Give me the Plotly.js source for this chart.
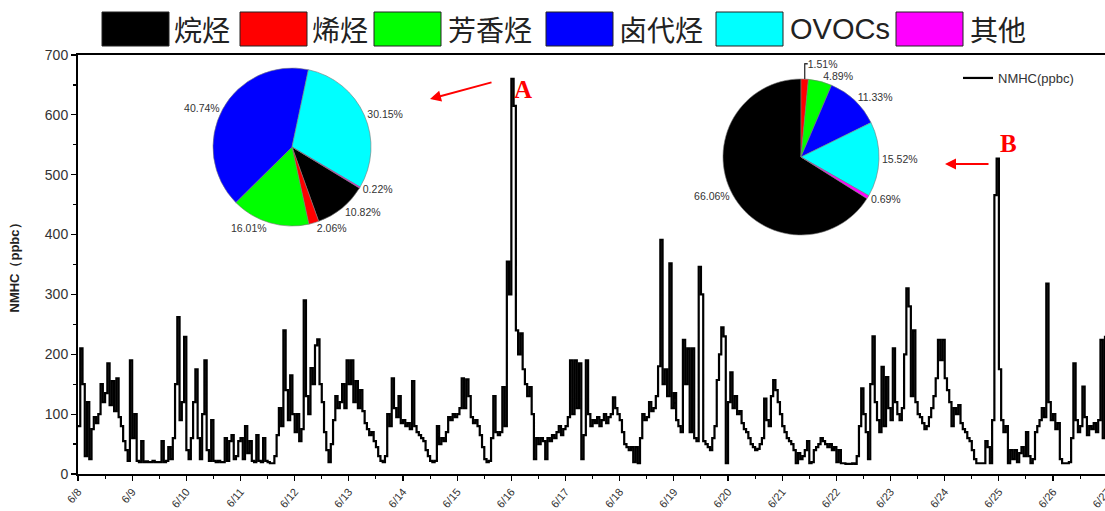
<!DOCTYPE html>
<html>
<head>
<meta charset="utf-8">
<script src="https://cdn.plot.ly/plotly-3.0.1.min.js"></script>
<style>
html,body{margin:0;padding:0;overflow:hidden;background:#fff;}
#chart{width:1116px;height:511px;}
</style>
</head>
<body>
<div id="chart"></div>
<script>
// ---------- data ----------
const categories = ['烷烃', '烯烃', '芳香烃', '卤代烃', 'OVOCs', '其他'];
const categoryColors = ['#000000', '#ff0000', '#00ff00', '#0000ff', '#00ffff', '#ff00ff'];
const pieA = [10.82, 2.06, 16.01, 40.74, 30.15, 0.22];
const pieB = [66.06, 1.51, 4.89, 11.33, 15.52, 0.69];
const seriesName = 'NMHC(ppbc)';
const yTitle = 'NMHC（ppbc）';
const startTime = '2015-06-08T00:00:00';
// hourly NMHC (ppbc), 6/8 00:00 onward
const nmhcHourly = [
  // 6/8
  80,210,150,30,120,25,75,95,85,100,150,120,135,185,115,155,105,160,95,80,55,40,22,190,
  // 6/9
  60,100,22,20,55,20,21,20,20,22,20,20,20,55,20,22,45,25,60,150,262,90,120,229,
  // 6/10
  40,25,60,120,175,60,25,100,190,40,22,90,22,20,22,20,20,60,22,55,65,25,30,55,
  // 6/11
  60,25,80,35,55,22,20,65,22,20,60,22,20,18,18,30,65,110,80,240,140,90,165,100,
  // 6/12
  70,100,55,75,290,130,100,177,150,215,225,150,120,70,40,20,50,90,130,110,120,150,110,190,
  // 6/13
  150,190,120,155,110,140,105,85,75,65,70,55,45,30,22,20,30,100,80,160,110,95,130,85,
  // 6/14
  90,80,85,75,155,80,70,65,60,55,40,30,22,20,22,80,50,60,55,70,95,90,100,95,
  // 6/15
  100,110,160,110,158,130,95,85,90,80,65,45,25,20,22,60,130,70,65,70,145,80,355,300,
  // 6/16
  660,615,240,200,235,175,150,130,145,100,25,60,50,60,55,25,60,55,65,60,70,80,65,75,
  // 6/17
  80,95,190,100,190,110,185,25,65,190,100,80,90,85,95,80,90,100,85,95,100,128,110,100,
  // 6/18
  90,70,50,45,40,45,20,45,18,60,100,90,95,120,105,110,130,180,391,150,175,130,352,110,
  // 6/19
  135,90,80,70,224,150,210,70,210,60,55,346,300,55,50,45,40,60,80,157,200,245,230,18,
  // 6/20
  120,170,110,130,100,105,85,75,70,60,50,45,40,42,50,60,126,90,80,130,157,140,120,100,
  // 6/21
  80,70,60,55,50,40,18,35,25,30,40,55,18,20,40,45,50,60,55,50,45,50,40,45,
  // 6/22
  20,40,18,18,17,17,17,18,17,30,80,143,100,70,25,150,230,120,90,70,179,80,162,110,
  // 6/23
  90,210,120,100,90,110,200,310,280,130,240,120,100,95,85,75,80,95,110,130,160,224,190,224,
  // 6/24
  160,140,120,80,110,100,115,85,75,70,60,55,40,25,18,18,18,18,55,45,18,90,466,527,
  // 6/25
  175,90,70,80,18,40,25,40,20,35,45,30,70,30,18,25,70,80,90,110,95,318,120,90,
  // 6/26
  100,75,85,25,18,18,18,20,60,185,90,70,80,146,95,65,80,75,85,70,90,224,60,229,
  // 6/27
  80,70,75,90
];

// ---------- build ----------
const t0 = new Date(startTime + 'Z').getTime();
function fmt(ms){ return new Date(ms).toISOString().replace('T',' ').slice(0,19); }
const times = nmhcHourly.map((v,i) => fmt(t0 + i*3600000));

const ML = 78, MT = 55, W = 1116, H = 511, MB = 37, MR = 0;
const PW = W - ML - MR, PH = H - MT - MB;
const fx = px => (px - ML) / PW;
const fy = py => (MT + PH - py) / PH;
const pxPerDay = 54.17;
const rangeEnd = fmt(t0 + PW / pxPerDay * 86400000);

const pieText = {family: 'Arial, Liberation Sans', size: 10.5, color: '#333'};
const traces = [
  {
    type: 'scatter', mode: 'lines', name: seriesName,
    x: times, y: nmhcHourly,
    line: {color: '#000', width: 2.2, shape: 'hv'},
    showlegend: true, hoverinfo: 'x+y'
  },
  {
    type: 'pie', labels: categories, values: pieA, sort: false,
    direction: 'clockwise', rotation: 121.3,
    marker: {colors: categoryColors, line: {color: '#777', width: 0.6}},
    texttemplate: '%{value:.2f}%', textposition: 'outside',
    textfont: pieText, outsidetextfont: pieText,
    domain: {x: [fx(213), fx(371)], y: [fy(226), fy(68)]},
    showlegend: false, hoverinfo: 'label+value'
  },
  {
    type: 'pie', labels: categories, values: pieB, sort: false,
    direction: 'clockwise', rotation: 122.2,
    marker: {colors: categoryColors, line: {color: '#777', width: 0.6}},
    texttemplate: '%{value:.2f}%', textposition: 'outside',
    textfont: pieText, outsidetextfont: pieText,
    domain: {x: [fx(723), fx(879)], y: [fy(235), fy(79)]},
    showlegend: false, hoverinfo: 'label+value'
  }
];

// custom big legend
const boxLeft = [102, 240, 374, 546, 716, 896];
const labelLeft = [172, 310, 446, 617, 788, 968];
const shapes = [];
const annotations = [];
categories.forEach((c, i) => {
  shapes.push({type: 'rect', xref: 'paper', yref: 'paper',
    x0: fx(boxLeft[i]), x1: fx(boxLeft[i] + 67), y0: fy(46), y1: fy(12),
    fillcolor: categoryColors[i], line: {color: '#222', width: 1}});
  annotations.push({xref: 'paper', yref: 'paper', x: fx(labelLeft[i]), y: fy(29),
    xanchor: 'left', yanchor: 'middle', showarrow: false, text: c,
    font: {family: c === 'OVOCs' ? 'Arial, Liberation Sans' : 'Noto Sans CJK SC', size: c === 'OVOCs' ? 29 : 28, color: '#222'}});
});
// arrows and letters
annotations.push({xref: 'paper', yref: 'paper', x: fx(430), y: fy(99), ax: 63, ay: -17,
  text: '', showarrow: true, arrowhead: 2, arrowsize: 1.1, arrowwidth: 2, arrowcolor: '#ff0000'});
annotations.push({xref: 'paper', yref: 'paper', x: fx(523), y: fy(89), xanchor: 'center', yanchor: 'middle', showarrow: false,
  text: '<b>A</b>', font: {family: 'Liberation Serif, Times New Roman', size: 25, color: '#ff0000'}});
annotations.push({xref: 'paper', yref: 'paper', x: fx(945), y: fy(164), ax: 45, ay: 0,
  text: '', showarrow: true, arrowhead: 2, arrowsize: 1.1, arrowwidth: 2, arrowcolor: '#ff0000'});
annotations.push({xref: 'paper', yref: 'paper', x: fx(1008), y: fy(143), xanchor: 'center', yanchor: 'middle', showarrow: false,
  text: '<b>B</b>', font: {family: 'Liberation Serif, Times New Roman', size: 25, color: '#ff0000'}});

const layout = {
  width: W, height: H,
  margin: {l: ML, r: MR, t: MT, b: MB, pad: 0},
  paper_bgcolor: '#fff', plot_bgcolor: '#fff',
  font: {family: 'Arial, Liberation Sans', color: '#333'},
  showlegend: true,
  legend: {x: fx(958), y: fy(63), xanchor: 'left', yanchor: 'top',
    bgcolor: 'rgba(0,0,0,0)', font: {family: 'Arial, Liberation Sans', size: 13, color: '#333'}},
  xaxis: {
    type: 'date', range: [startTime.replace('T',' '), rangeEnd],
    tickformat: '%-m/%-d', dtick: 86400000, tick0: '2015-06-08',
    tickangle: -50, ticks: 'outside', ticklen: 5, tickwidth: 1.2, tickcolor: '#000',
    minor: {dtick: 43200000, ticks: 'outside', ticklen: 3, tickcolor: '#000', tickwidth: 1},
    tickfont: {family: 'Arial, Liberation Sans', size: 11, color: '#333'},
    showline: true, linecolor: '#000', linewidth: 2, mirror: true,
    showgrid: false, zeroline: false, automargin: false
  },
  yaxis: {
    range: [0, 700], dtick: 100, tick0: 0,
    ticks: 'outside', ticklen: 5, tickwidth: 1.2, tickcolor: '#000',
    minor: {dtick: 50, ticks: 'outside', ticklen: 3, tickcolor: '#000'},
    tickfont: {family: 'Arial, Liberation Sans', size: 14, color: '#333'},
    showline: true, linecolor: '#000', linewidth: 2,
    showgrid: false, zeroline: false, automargin: false,
    title: {text: yTitle, font: {family: 'Arial, Liberation Sans', size: 13, color: '#222', weight: 'bold'}, standoff: 22}
  },
  shapes: shapes,
  annotations: annotations
};

Plotly.newPlot('chart', traces, layout, {displayModeBar: false, staticPlot: true});
</script>
</body>
</html>
